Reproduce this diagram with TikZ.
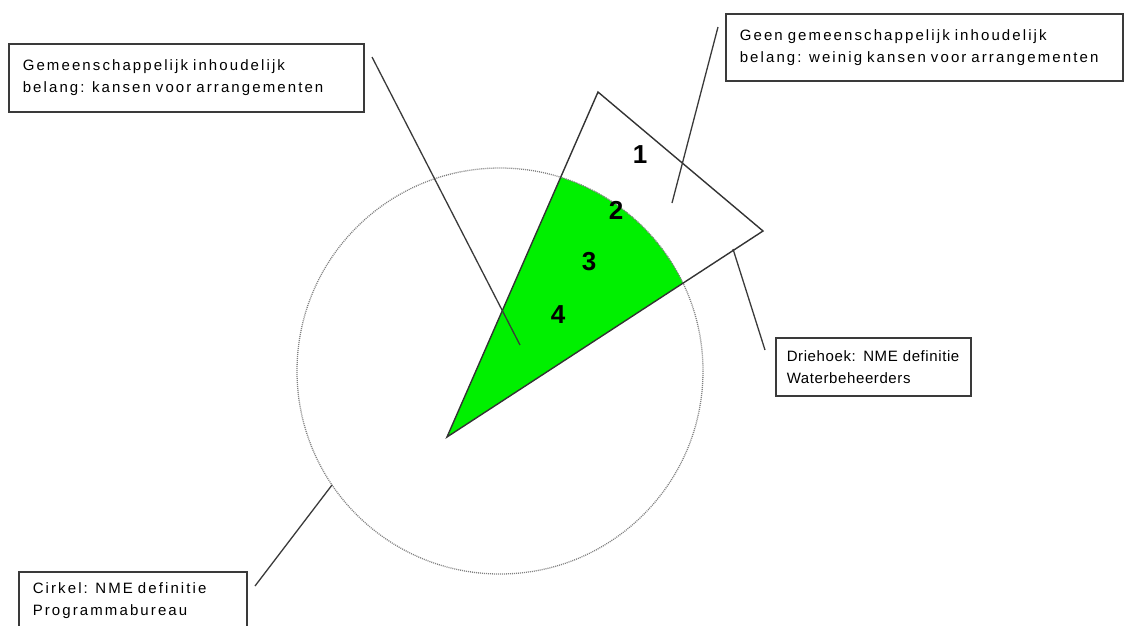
\documentclass[tikz,border=0pt]{standalone}
\usepackage{fontspec}
\setmainfont{Liberation Sans}
\newfontfamily\boxfont{Liberation Sans}[LetterSpace=14]
\newfontfamily\smallboxfont{Liberation Sans}[LetterSpace=4]
\usetikzlibrary{positioning}
\definecolor{nmegreen}{HTML}{00F000}
\definecolor{nmeline}{HTML}{3A3A3A}
\definecolor{nmedot}{HTML}{808080}
\tikzset{
  lbox/.style={draw=nmeline, line width=1.6pt, fill=white, anchor=north west,
               align=left, inner xsep=14pt, inner ysep=0pt,
               font=\boxfont\fontsize{15}{22}\selectfont},
  lead/.style={nmeline, line width=1.3pt},
  edge/.style={black!80, line width=1.4pt, line join=miter},
  numlbl/.style={font=\bfseries\fontsize{26}{26}\selectfont},
}

\begin{document}
\begin{tikzpicture}[x=1pt, y=-1pt]
  \useasboundingbox (0,0) rectangle (1128,625);
  % driehoek en cirkel
  \coordinate (apex) at (447,437);
  \coordinate (top) at (598,92);
  \coordinate (right) at (763,231);
  \coordinate (mid) at (500,371);
  \begin{scope}
    \clip (apex) -- (top) -- (right) -- cycle;
    \fill[nmegreen] (mid) circle[radius=203];
  \end{scope}
  \draw[nmedot, line width=1.3pt, dash pattern=on 1pt off 1pt] (mid) circle[radius=203];
  \draw[edge] (apex) -- (top) -- (right) -- cycle;
  \foreach \nr/\px/\py in {1/640/155, 2/616/210, 3/589/262, 4/558/315}{
    \node[numlbl] (n\nr) at (\px,\py) {\nr};
  }
  % uitleg
  \node[lbox, minimum width=355, minimum height=68, text width=327] (gemeen) at (8,43)
    {Gemeenschappelijk inhoudelijk\\belang: kansen voor arrangementen};
  \node[lbox, minimum width=397, minimum height=67, text width=369] (geen) at (725,13)
    {Geen gemeenschappelijk inhoudelijk\\belang: weinig kansen voor arrangementen};
  \node[lbox, inner xsep=11pt, minimum height=58, text width=173,
        font=\smallboxfont\fontsize{15}{22}\selectfont] (drie) at (775,337)
    {Driehoek: NME definitie\\Waterbeheerders};
  \node[lbox, minimum width=228, minimum height=58, text width=200] (cirkel) at (18,571)
    {Cirkel: NME definitie\\Programmabureau};
  \coordinate (gemeen-a) at (372,57);
  \coordinate (gemeen-b) at (520,345);
  \coordinate (geen-a) at (718,27);
  \coordinate (geen-b) at (672,203);
  \coordinate (drie-a) at (765,350);
  \coordinate (drie-b) at (733,249);
  \coordinate (cirkel-a) at (255,586);
  \coordinate (cirkel-b) at (332,485);
  \draw[lead] (gemeen-a) -- (gemeen-b);
  \draw[lead] (geen-a) -- (geen-b);
  \draw[lead] (drie-a) -- (drie-b);
  \draw[lead] (cirkel-a) -- (cirkel-b);
\end{tikzpicture}
\end{document}
